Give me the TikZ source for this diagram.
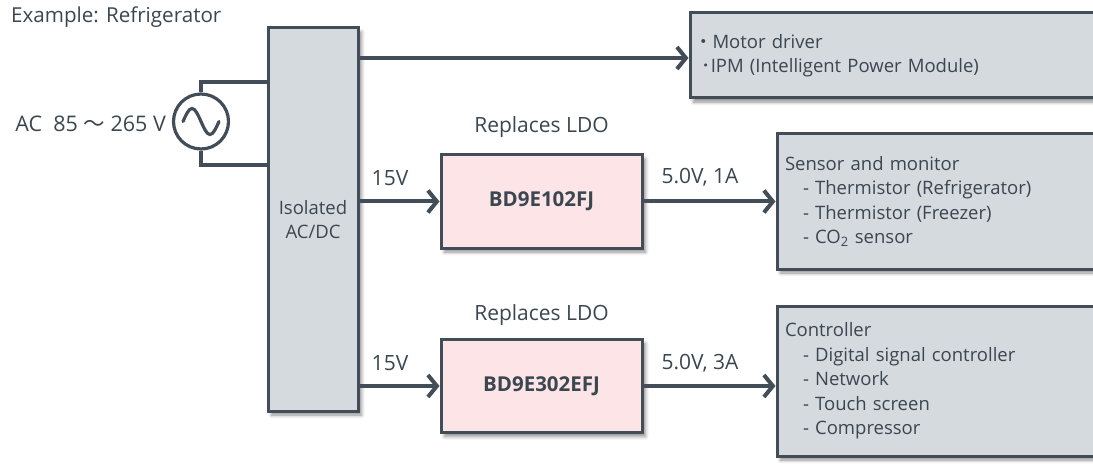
\documentclass[tikz,border=0pt]{standalone}
\usepackage{fontspec}
\setmainfont{Open Sans}
\newfontfamily\cjk{Noto Sans CJK JP}
\usetikzlibrary{positioning,arrows.meta,calc,shadows.blur}
\definecolor{ink}{HTML}{3A4650}
\definecolor{edge}{HTML}{434D57}
\definecolor{panel}{HTML}{D5DADF}
\definecolor{blush}{HTML}{FDE4E6}
\tikzset{
  txt/.style={font=\fontsize{21}{25}\selectfont, text=ink, inner sep=0pt},
  soft shadow/.style={blur shadow={shadow blur steps=6, shadow xshift=3.5pt,
    shadow yshift=-4pt, shadow blur radius=3.5pt, shadow opacity=45}},
  blk/.style={draw=edge, fill=#1, line width=3pt, soft shadow, txt, inner sep=0pt,
    font=\fontsize{18.5}{24.5}\selectfont},
  blk/.default=panel,
  load/.style={blk, inner xsep=8pt, text width=#1, align=left},
  feed/.style={-{Straight Barb[length=9pt,width=22pt]}, line width=4pt, draw=edge},
  wire/.style={line width=3.2pt, draw=edge},
}
\begin{document}
\begin{tikzpicture}[x=1pt,y=-1pt]
  \useasboundingbox (0,0) rectangle (1093,468);
  \clip (0,0) rectangle (1093,468);
  \node[txt, anchor=west, font=\fontsize{20.6}{25}\selectfont] (title) at (11,17) {Example: Refrigerator};
  % mains side
  \node[blk, minimum width=90pt, minimum height=383pt, align=center] (acdc) at (313,219.5) {Isolated\\AC/DC};
  \node[circle, draw=edge, line width=3.2pt, minimum size=55pt, inner sep=0pt] (mains) at (201,121.5) {};
  \node[txt, anchor=east, font=\fontsize{21.5}{25}\selectfont] (mainslab) at (166,124) {AC\ \ 85 {\cjk 〜} 265 V};
  \draw[wire] (mains.north) |- (acdc.west |- 0,82);
  \draw[wire] (mains.south) |- (acdc.west |- 0,165);
  \draw[wire, line cap=round] ($(mains.center)+(-18,0)$) sin ++(9,-13) cos ++(9,13)
    sin ++(9,13) cos ++(9,-13);
  % regulators
  \node[blk=blush, minimum width=201pt, minimum height=93pt,
    font=\fontsize{20.5}{24.5}\selectfont\bfseries] (ldoA) at (541.5,201.5) {BD9E102FJ};
  \node[blk=blush, minimum width=201pt, minimum height=93pt,
    font=\fontsize{20.5}{24.5}\selectfont\bfseries] (ldoB) at (541.5,386) {BD9E302EFJ};
  \node[txt] (noteA) at (ldoA.north |- 0,127) {Replaces LDO};
  \node[txt] (noteB) at (ldoB.north |- 0,315) {Replaces LDO};
  % loads (running off the right edge)
  \node[load=412pt, inner xsep=4pt, minimum height=85pt] (motor) at (900,55.5)
    {{\cjk ・}Motor driver\\\hspace*{7.5pt}{\cjk ･}IPM (Intelligent Power Module)};
  \node[load=317pt, minimum height=135pt] (sensor) at (943.5,201.5)
    {Sensor and monitor\\\hspace*{18pt}- Thermistor (Refrigerator)\\
     \hspace*{18pt}- Thermistor (Freezer)\\\hspace*{18pt}- CO\textsubscript{2} sensor};
  \node[load=317pt, minimum height=150pt] (ctrl) at (943.5,381)
    {Controller\\\hspace*{18pt}- Digital signal controller\\\hspace*{18pt}- Network\\
     \hspace*{18pt}- Touch screen\\\hspace*{18pt}- Compressor};
  % connections
  \draw[feed] (acdc.east |- 0,58) -- (motor.west |- 0,58);
  \draw[feed] (acdc.east |- ldoA.west) -- (ldoA.west);
  \draw[feed] (acdc.east |- ldoB.west) -- (ldoB.west);
  \draw[feed] (ldoA.east) -- (ldoA.east -| sensor.west);
  \draw[feed] (ldoB.east) -- (ldoB.east -| ctrl.west);
  \node[txt] (inA) at (390,178) {15V};
  \node[txt] (inB) at (390,363) {15V};
  \node[txt] (outA) at (700,177) {5.0V, 1A};
  \node[txt] (outB) at (700,363) {5.0V, 3A};
\end{tikzpicture}
\end{document}
